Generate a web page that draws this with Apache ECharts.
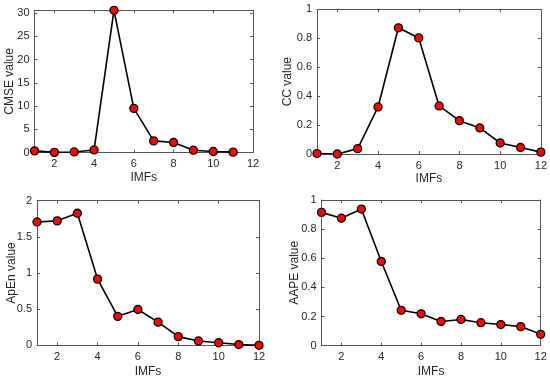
<!DOCTYPE html>
<html><head><meta charset="utf-8">
<script src="https://cdn.jsdelivr.net/npm/echarts@6/dist/echarts.min.js"></script>
<style>html,body{margin:0;padding:0;background:#fff}#c{width:550px;height:380px}</style>
</head><body><div id="c"></div>
<script>
const imfs = [1,2,3,4,5,6,7,8,9,10,11,12];
const cmse = [0.35,0.03,0.12,0.55,30.6,9.5,2.5,2.15,0.5,0.22,0.08];
const cc = [0.003,0.0,0.037,0.325,0.872,0.802,0.332,0.23,0.18,0.076,0.045,0.013];
const apen = [1.705,1.72,1.825,0.915,0.40,0.495,0.32,0.12,0.06,0.035,0.01,0.0];
const aape = [0.915,0.875,0.938,0.578,0.243,0.219,0.166,0.18,0.158,0.145,0.131,0.078];
const xTicks = [2,4,6,8,10,12];
const yTicks1 = [0,5,10,15,20,25,30];
const yTicks2 = [0,0.2,0.4,0.6,0.8,1];
const yTicks3 = [0,0.5,1,1.5,2];
const yTicks4 = [0,0.2,0.4,0.6,0.8,1];
const yNames = ['CMSE value','CC value','ApEn value','AAPE value'];
const xName = 'IMFs';
const yMax = [30.6,1,2,1];
const allY = [cmse,cc,apen,aape];
const allYT = [yTicks1,yTicks2,yTicks3,yTicks4];

const grids = [
  {left:34.5, top:10.3, width:218.5, height:142.2},
  {left:317, top:9.3, width:224, height:144.7},
  {left:37, top:200.6, width:222, height:144.7},
  {left:321.5, top:200, width:219.2, height:145.7}
];
const yGaps = [19,23,19,21];
const xGaps = [19,19,20,20];
const font = 'Liberation Sans, Arial, sans-serif';
const axColor = '#555';
const txtColor = '#262626';
const xAxes = [], yAxes = [], series = [];
grids.forEach((g,i)=>{
  xAxes.push({type:'value', gridIndex:i, min:1, max:12, position:'bottom',
    name:xName, nameLocation:'middle', nameGap:xGaps[i], nameMoveOverlap:false,
    nameTextStyle:{fontFamily:font, fontSize:12, color:txtColor},
    axisLine:{onZero:false, lineStyle:{color:axColor,width:1}},
    axisTick:{inside:true, length:3, customValues:xTicks, lineStyle:{color:axColor}},
    axisLabel:{customValues:xTicks, fontFamily:font, fontSize:11, color:txtColor, margin:6},
    splitLine:{show:false}});
  xAxes.push({type:'value', gridIndex:i, min:1, max:12, position:'top',
    axisLine:{onZero:false, lineStyle:{color:axColor,width:1}},
    axisTick:{inside:true, length:3, customValues:xTicks, lineStyle:{color:axColor}},
    axisLabel:{show:false}, splitLine:{show:false}});
  yAxes.push({type:'value', gridIndex:i, min:0, max:yMax[i], position:'left',
    name:yNames[i], nameLocation:'middle', nameGap:yGaps[i], nameMoveOverlap:false,
    nameTextStyle:{fontFamily:font, fontSize:12, color:txtColor},
    axisLine:{show:true, onZero:false, lineStyle:{color:axColor,width:1}},
    axisTick:{show:true, inside:true, length:3, customValues:allYT[i], lineStyle:{color:axColor}},
    axisLabel:{customValues:allYT[i], fontFamily:font, fontSize:11, color:txtColor, margin:5},
    splitLine:{show:false}});
  yAxes.push({type:'value', gridIndex:i, min:0, max:yMax[i], position:'right',
    axisLine:{show:true, onZero:false, lineStyle:{color:axColor,width:1}},
    axisTick:{show:true, inside:true, length:3, customValues:allYT[i], lineStyle:{color:axColor}},
    axisLabel:{show:false}, splitLine:{show:false}});
  series.push({type:'line', xAxisIndex:2*i, yAxisIndex:2*i,
    data: allY[i].map((v,k)=>[imfs[k], v]),
    symbol:'circle', symbolSize:8,
    lineStyle:{color:'#000', width:1.6},
    itemStyle:{color:'#ff0000', borderColor:'#000', borderWidth:1.3},
    animation:false, z:3});
});
const chart = echarts.init(document.getElementById('c'), null, {renderer:'canvas'});
chart.setOption({animation:false, backgroundColor:'#fff', grid:grids, xAxis:xAxes, yAxis:yAxes, series:series});
</script></body></html>
